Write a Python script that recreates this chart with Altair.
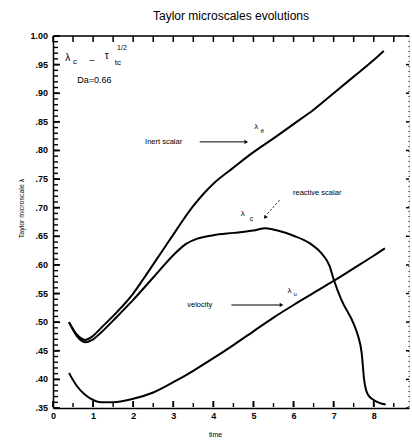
import altair as alt
import pandas as pd
import numpy as np

# ---- data ----
inert_t = [0.4, 0.6, 0.8, 1.0, 1.2, 1.6, 2.0, 2.25, 2.5, 2.75, 3.0, 3.25, 3.5, 3.75, 4.0, 4.5, 5.0, 5.5, 6.0, 6.5, 7.0, 7.5, 8.0, 8.25]
inert_v = [0.500, 0.478, 0.469, 0.476, 0.490, 0.518, 0.550, 0.575, 0.601, 0.627, 0.653, 0.679, 0.703, 0.724, 0.742, 0.770, 0.797, 0.821, 0.846, 0.871, 0.900, 0.929, 0.958, 0.974]

react_t = [0.4, 0.6, 0.8, 1.0, 1.2, 1.6, 2.0, 2.5, 3.0, 3.3, 3.6, 4.0, 4.5, 5.0, 5.3, 5.6, 6.0, 6.4, 6.7, 6.9, 7.0, 7.2, 7.5, 7.6, 7.7, 7.76, 7.85, 8.0, 8.3]
react_v = [0.500, 0.475, 0.465, 0.470, 0.482, 0.510, 0.539, 0.578, 0.617, 0.636, 0.646, 0.652, 0.656, 0.660, 0.664, 0.660, 0.651, 0.638, 0.620, 0.598, 0.575, 0.538, 0.497, 0.478, 0.446, 0.400, 0.374, 0.364, 0.356]

vel_t = [0.4, 0.6, 0.8, 1.0, 1.2, 1.5, 2.0, 2.5, 3.0, 3.5, 4.0, 4.5, 5.0, 5.5, 6.0, 6.5, 7.0, 7.5, 8.0, 8.28]
vel_v = [0.411, 0.388, 0.373, 0.364, 0.360, 0.360, 0.366, 0.377, 0.395, 0.415, 0.437, 0.460, 0.484, 0.508, 0.530, 0.551, 0.572, 0.594, 0.616, 0.629]

x_ticks = [0, 1, 2, 3, 4, 5, 6, 7, 8]
y_ticks = [0.35, 0.40, 0.45, 0.50, 0.55, 0.60, 0.65, 0.70, 0.75, 0.80, 0.85, 0.90, 0.95, 1.00]
y_labels = [".35", ".40", ".45", ".50", ".55", ".60", ".65", ".70", ".75", ".80", ".85", ".90", ".95", "1.00"]

W, H = 356, 372
XDOM = [0, 8.88]
YDOM = [0.35, 1.0]
FONT = "Liberation Sans"

lines = pd.concat([
    pd.DataFrame({"t": inert_t, "v": inert_v, "s": "inert"}),
    pd.DataFrame({"t": react_t, "v": react_v, "s": "reactive"}),
    pd.DataFrame({"t": vel_t, "v": vel_v, "s": "velocity"}),
])

xs = alt.Scale(domain=XDOM, nice=False, zero=False)
ys = alt.Scale(domain=YDOM, nice=False, zero=False)

X = lambda: alt.X("t:Q", scale=xs)
Y = lambda: alt.Y("v:Q", scale=ys)

base_line = alt.Chart(lines).mark_line(color="black", strokeWidth=2, interpolate="monotone").encode(
    x=alt.X("t:Q", scale=xs, axis=alt.Axis(
        values=x_ticks, format="d", title="time", titleFontSize=7, titleFont=FONT,
        titleFontWeight="normal", titlePadding=10, titleX=162, titleColor="black",
        labelFont=FONT, labelFontWeight="bold", labelFontSize=9, labelPadding=3,
        labelOverlap=False, labelFlush=False,
        ticks=False, domainColor="black", domainWidth=1.5, grid=False, labelColor="black")),
    y=alt.Y("v:Q", scale=ys, axis=alt.Axis(
        values=y_ticks, title="Taylor microscale      λ", titleFontSize=7, titleFont=FONT,
        titleFontWeight="normal", titleX=-29, titleY=172, titleAlign="center", titleColor="black",
        labels=False, ticks=False, domainColor="black", domainWidth=1.5, grid=False)),
    detail="s:N",
)

# manual y labels
ylab_df = pd.DataFrame({"v": y_ticks, "lab": y_labels})
ylab_layer = alt.Chart(ylab_df).mark_text(font=FONT, fontWeight="bold", fontSize=9, color="black",
                                          align="right", baseline="middle").encode(
    y=Y(), x=alt.value(-5), text="lab:N")

# tick marks (inward)
ymin_df = pd.DataFrame({"v": np.round(np.arange(0.35, 1.0001, 0.01), 2)})
ymaj_df = pd.DataFrame({"v": y_ticks})
xmin_df = pd.DataFrame({"t": np.arange(0, 8.51, 0.5)})
xmaj_df = pd.DataFrame({"t": x_ticks})

left_minor = alt.Chart(ymin_df).mark_rule(color="black", strokeWidth=1.4).encode(
    y=Y(), x=alt.value(1), x2=alt.value(5))
left_major = alt.Chart(ymaj_df).mark_rule(color="black", strokeWidth=1.8).encode(
    y=Y(), x=alt.value(1), x2=alt.value(7))
right_major = alt.Chart(ymaj_df).mark_rule(color="black", strokeWidth=1.5).encode(
    y=Y(), x=alt.value(W - 3), x2=alt.value(W))
bot_minor = alt.Chart(xmin_df).mark_rule(color="black", strokeWidth=1.4).encode(
    x=X(), y=alt.value(H - 1), y2=alt.value(H - 5))
bot_major = alt.Chart(xmaj_df).mark_rule(color="black", strokeWidth=1.8).encode(
    x=X(), y=alt.value(H - 1), y2=alt.value(H - 7))
top_minor = alt.Chart(xmin_df).mark_rule(color="black", strokeWidth=1.5).encode(
    x=X(), y=alt.value(0), y2=alt.value(6))
top_border = alt.Chart(pd.DataFrame({"a": [0]})).mark_rule(color="black", strokeWidth=1.5).encode(
    x=alt.value(0), x2=alt.value(W), y=alt.value(0))
right_border = alt.Chart(pd.DataFrame({"a": [0]})).mark_rule(color="black", strokeWidth=1, strokeDash=[1, 4]).encode(
    x=alt.value(W), y=alt.value(0), y2=alt.value(H))

# annotations (data coordinates)
ann = pd.DataFrame([
    {"t": 0.37, "v": 0.9615, "txt": "λ", "fs": 10},
    {"t": 0.55, "v": 0.9545, "txt": "c", "fs": 8},
    {"t": 0.97, "v": 0.958, "txt": "–", "fs": 9},
    {"t": 1.34, "v": 0.9655, "txt": "τ", "fs": 10},
    {"t": 1.62, "v": 0.953, "txt": "tc", "fs": 8},
    {"t": 1.72, "v": 0.979, "txt": "1/2", "fs": 7},
    {"t": 1.03, "v": 0.923, "txt": "Da=0.66", "fs": 9},
    {"t": 2.76, "v": 0.815, "txt": "Inert scalar", "fs": 7.5},
    {"t": 5.07, "v": 0.841, "txt": "λ", "fs": 8},
    {"t": 5.22, "v": 0.834, "txt": "θ", "fs": 6},
    {"t": 6.59, "v": 0.7255, "txt": "reactive scalar", "fs": 7.5},
    {"t": 4.73, "v": 0.689, "txt": "λ", "fs": 8},
    {"t": 4.95, "v": 0.680, "txt": "c", "fs": 7},
    {"t": 3.66, "v": 0.530, "txt": "velocity", "fs": 7.5},
    {"t": 5.90, "v": 0.554, "txt": "λ", "fs": 8},
    {"t": 6.04, "v": 0.549, "txt": "u", "fs": 6},
])
ann_layer = alt.Chart(ann).mark_text(font=FONT, color="black", baseline="middle", align="center").encode(
    x=X(), y=Y(),
    text="txt:N", size=alt.Size("fs:Q", scale=None, legend=None))

arrows = pd.DataFrame([
    {"t": 3.66, "t2": 4.78, "v": 0.815, "v2": 0.815},
    {"t": 4.45, "t2": 5.66, "v": 0.530, "v2": 0.530},
])
arrow_lines = alt.Chart(arrows).mark_rule(color="black", strokeWidth=1).encode(
    x=X(), x2="t2:Q", y=Y(), y2="v2:Q")
heads = pd.DataFrame([
    {"t": 4.82, "v": 0.815, "ang": 90},
    {"t": 5.70, "v": 0.530, "ang": 90},
    {"t": 5.29, "v": 0.683, "ang": 218},
])
arrow_heads = alt.Chart(heads).mark_point(shape="triangle-up", filled=True, color="black", size=18, opacity=1).encode(
    x=X(), y=Y(), angle=alt.Angle("ang:Q", scale=None))
dash = pd.DataFrame([{"t": 5.65, "t2": 5.33, "v": 0.713, "v2": 0.688}])
dash_line = alt.Chart(dash).mark_rule(color="black", strokeWidth=1, strokeDash=[2, 2]).encode(
    x=X(), x2="t2:Q", y=Y(), y2="v2:Q")

chart = alt.layer(
    base_line, left_minor, left_major, right_major, bot_minor, bot_major, top_minor,
    top_border, right_border, ylab_layer, ann_layer, arrow_lines, arrow_heads, dash_line
).properties(
    width=W, height=H,
    title=alt.TitleParams("Taylor microscales evolutions", font=FONT, fontSize=12,
                          fontWeight="normal", color="black", offset=9),
    autosize=alt.AutoSizeParams(type="none"),
    padding={"left": 53, "top": 36, "right": 3, "bottom": 32},
).configure_view(stroke=None).configure(background="white")

chart.save("out.html", embed_options={"renderer": "svg", "actions": False})
